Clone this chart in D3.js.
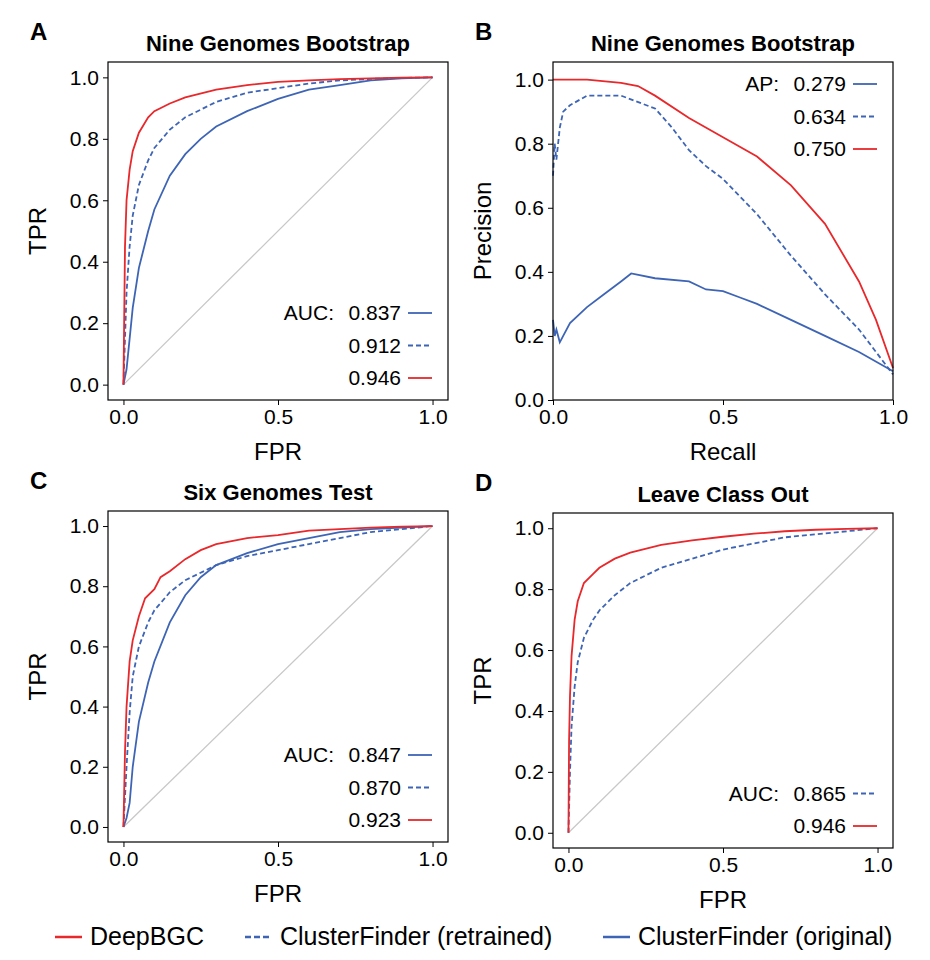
<!DOCTYPE html>
<html><head><meta charset="utf-8">
<script src="https://cdn.jsdelivr.net/npm/d3@7"></script>
<style>body{margin:0;background:#fff;font-family:"Liberation Sans",Arial,sans-serif}</style>
</head><body><svg width="930" height="960"></svg>
<script>
const RED = '#e8282b', BLUE = '#3e65b5';

// ROC / PR curves
const aRedX = [0,0.005,0.01,0.02,0.03,0.05,0.08,0.1,0.15,0.2,0.3,0.4,0.5,0.6,0.7,0.8,0.9,1];
const aRedY = [0,0.45,0.6,0.7,0.76,0.82,0.87,0.89,0.915,0.935,0.96,0.975,0.985,0.99,0.994,0.997,0.999,1];
const aDashX = [0,0.01,0.02,0.03,0.05,0.08,0.1,0.15,0.2,0.3,0.4,0.5,0.6,0.7,0.8,0.9,1];
const aDashY = [0,0.3,0.45,0.55,0.65,0.73,0.77,0.83,0.87,0.92,0.95,0.965,0.98,0.99,0.995,0.998,1];
const aBlueX = [0,0.01,0.02,0.03,0.05,0.08,0.1,0.15,0.2,0.25,0.3,0.4,0.5,0.6,0.7,0.8,0.9,1];
const aBlueY = [0,0.05,0.15,0.25,0.38,0.5,0.57,0.68,0.75,0.8,0.84,0.89,0.93,0.96,0.975,0.99,0.997,1];

const bRedX = [0,0.1,0.2,0.25,0.3,0.4,0.5,0.6,0.7,0.8,0.9,0.95,1];
const bRedY = [1,1,0.99,0.98,0.95,0.88,0.82,0.76,0.67,0.55,0.37,0.25,0.1];
const bDashX = [0,0.005,0.01,0.02,0.03,0.05,0.1,0.2,0.3,0.35,0.4,0.45,0.5,0.6,0.7,0.8,0.9,1];
const bDashY = [0.7,0.8,0.75,0.85,0.9,0.92,0.95,0.95,0.91,0.85,0.78,0.73,0.69,0.58,0.45,0.33,0.22,0.08];
const bBlueX = [0,0.005,0.01,0.02,0.03,0.05,0.1,0.15,0.2,0.23,0.3,0.4,0.45,0.5,0.55,0.6,0.7,0.8,0.9,1];
const bBlueY = [0.25,0.2,0.22,0.18,0.2,0.24,0.29,0.33,0.37,0.395,0.38,0.37,0.345,0.34,0.32,0.3,0.25,0.2,0.15,0.09];

const cRedX = [0,0.005,0.01,0.02,0.03,0.05,0.07,0.1,0.12,0.15,0.2,0.25,0.3,0.4,0.5,0.6,0.7,0.8,0.9,1];
const cRedY = [0,0.25,0.4,0.55,0.62,0.7,0.76,0.79,0.83,0.85,0.89,0.92,0.94,0.96,0.97,0.985,0.99,0.995,0.998,1];
const cDashX = [0,0.01,0.02,0.03,0.05,0.08,0.1,0.15,0.2,0.3,0.4,0.5,0.6,0.7,0.8,0.9,1];
const cDashY = [0,0.2,0.38,0.5,0.6,0.68,0.72,0.78,0.82,0.87,0.9,0.92,0.94,0.96,0.98,0.99,1];
const cBlueX = [0,0.01,0.02,0.03,0.05,0.08,0.1,0.15,0.2,0.25,0.3,0.4,0.5,0.6,0.7,0.8,0.9,1];
const cBlueY = [0,0.03,0.08,0.2,0.35,0.48,0.55,0.68,0.77,0.83,0.87,0.91,0.94,0.96,0.98,0.99,0.995,1];

const dRedX = [0,0.002,0.005,0.01,0.02,0.03,0.05,0.08,0.1,0.15,0.2,0.3,0.4,0.5,0.6,0.7,0.8,0.9,1];
const dRedY = [0,0.3,0.45,0.58,0.7,0.76,0.82,0.85,0.87,0.9,0.92,0.945,0.96,0.972,0.982,0.99,0.995,0.998,1];
const dDashX = [0,0.005,0.01,0.02,0.03,0.05,0.08,0.1,0.15,0.2,0.3,0.4,0.5,0.6,0.7,0.8,0.9,1];
const dDashY = [0,0.2,0.35,0.48,0.56,0.64,0.7,0.73,0.78,0.82,0.87,0.9,0.93,0.95,0.97,0.98,0.99,1];

const xTicks = [0, 0.5, 1], yTicks = [0, 0.2, 0.4, 0.6, 0.8, 1];

const panels = [
  {letter:'A', title:'Nine Genomes Bootstrap', x0:108, x1:448, y0:62, y1:400, xd:[-0.05,1.05], yd:[-0.05,1.05],
   xl:'FPR', yl:'TPR', diag:true, head:'AUC:', top:false,
   curves:[[aBlueX,aBlueY,BLUE,false,'0.837'],[aDashX,aDashY,BLUE,true,'0.912'],[aRedX,aRedY,RED,false,'0.946']]},
  {letter:'B', title:'Nine Genomes Bootstrap', x0:553, x1:893, y0:62, y1:400, xd:[0,1], yd:[0,1.055],
   xl:'Recall', yl:'Precision', diag:false, head:'AP:', top:true,
   curves:[[bBlueX,bBlueY,BLUE,false,'0.279'],[bDashX,bDashY,BLUE,true,'0.634'],[bRedX,bRedY,RED,false,'0.750']]},
  {letter:'C', title:'Six Genomes Test', x0:108, x1:448, y0:511, y1:842, xd:[-0.05,1.05], yd:[-0.05,1.05],
   xl:'FPR', yl:'TPR', diag:true, head:'AUC:', top:false,
   curves:[[cBlueX,cBlueY,BLUE,false,'0.847'],[cDashX,cDashY,BLUE,true,'0.870'],[cRedX,cRedY,RED,false,'0.923']]},
  {letter:'D', title:'Leave Class Out', x0:553, x1:893, y0:513, y1:848, xd:[-0.05,1.05], yd:[-0.05,1.05],
   xl:'FPR', yl:'TPR', diag:true, head:'AUC:', top:false,
   curves:[[dDashX,dDashY,BLUE,true,'0.865'],[dRedX,dRedY,RED,false,'0.946']]}
];

const svg = d3.select('svg');

panels.forEach(p => {
  const x = d3.scaleLinear().domain(p.xd).range([p.x0, p.x1]);
  const y = d3.scaleLinear().domain(p.yd).range([p.y1, p.y0]);
  const g = svg.append('g');

  g.append('text').attr('x', p.x0 - 78).attr('y', p.y0 - 22).attr('font-size', 24).attr('font-weight', 'bold').text(p.letter);
  g.append('text').attr('x', (p.x0 + p.x1) / 2).attr('y', p.y0 - 11).attr('text-anchor', 'middle')
    .attr('font-size', 22).attr('font-weight', 'bold').text(p.title);

  if (p.diag) g.append('line').attr('x1', x(0)).attr('y1', y(0)).attr('x2', x(1)).attr('y2', y(1))
    .attr('stroke', '#c8c8c8').attr('stroke-width', 1.3);

  const line = d3.line();
  p.curves.forEach(c => {
    g.append('path').attr('d', line(c[0].map((v, i) => [x(v), y(c[1][i])])))
      .attr('fill', 'none').attr('stroke', c[2]).attr('stroke-width', 1.8)
      .attr('stroke-dasharray', c[3] ? '5,3' : null);
  });

  g.append('rect').attr('x', p.x0).attr('y', p.y0).attr('width', p.x1 - p.x0).attr('height', p.y1 - p.y0)
    .attr('fill', 'none').attr('stroke', '#000').attr('stroke-width', 1.2);

  const xa = g.append('g').attr('transform', `translate(0,${p.y1})`)
    .call(d3.axisBottom(x).tickValues(xTicks).tickFormat(d3.format('.1f')).tickSizeOuter(0).tickSize(5).tickPadding(4));
  const ya = g.append('g').attr('transform', `translate(${p.x0},0)`)
    .call(d3.axisLeft(y).tickValues(yTicks).tickFormat(d3.format('.1f')).tickSizeOuter(0).tickSize(5).tickPadding(4));
  [xa, ya].forEach(a => {
    a.select('.domain').remove();
    a.selectAll('text').attr('font-size', 21).attr('font-family', '"Liberation Sans",Arial,sans-serif').attr('fill', '#000');
    a.selectAll('line').attr('stroke', '#000');
  });

  g.append('text').attr('x', (p.x0 + p.x1) / 2).attr('y', p.y1 + 60).attr('text-anchor', 'middle').attr('font-size', 24).text(p.xl);
  g.append('text').attr('transform', `translate(${p.x0 - 62},${(p.y0 + p.y1) / 2}) rotate(-90)`)
    .attr('text-anchor', 'middle').attr('font-size', 24).text(p.yl);

  // inner legend
  const n = p.curves.length, step = 32.5;
  const firstY = p.top ? p.y0 + 22 : p.y1 - 22 - (n - 1) * step;
  p.curves.forEach((c, i) => {
    const ly = firstY + i * step;
    g.append('line').attr('x1', p.x1 - 40).attr('x2', p.x1 - 16).attr('y1', ly).attr('y2', ly)
      .attr('stroke', c[2]).attr('stroke-width', 1.8).attr('stroke-dasharray', c[3] ? '5,3' : null);
    g.append('text').attr('x', p.x1 - 47).attr('y', ly + 7).attr('text-anchor', 'end').attr('font-size', 21).text(c[4]);
    if (i === 0) g.append('text').attr('x', p.x1 - 114).attr('y', ly + 7).attr('text-anchor', 'end').attr('font-size', 21).text(p.head);
  });
});

// bottom legend
const legend = [['DeepBGC', RED, false, 55], ['ClusterFinder (retrained)', BLUE, true, 245], ['ClusterFinder (original)', BLUE, false, 603]];
legend.forEach(l => {
  svg.append('line').attr('x1', l[3]).attr('x2', l[3] + 27).attr('y1', 937).attr('y2', 937)
    .attr('stroke', l[1]).attr('stroke-width', 2.5).attr('stroke-dasharray', l[2] ? '6,3' : null);
  svg.append('text').attr('x', l[3] + 35).attr('y', 945).attr('font-size', 25).text(l[0]);
});
</script></body></html>
